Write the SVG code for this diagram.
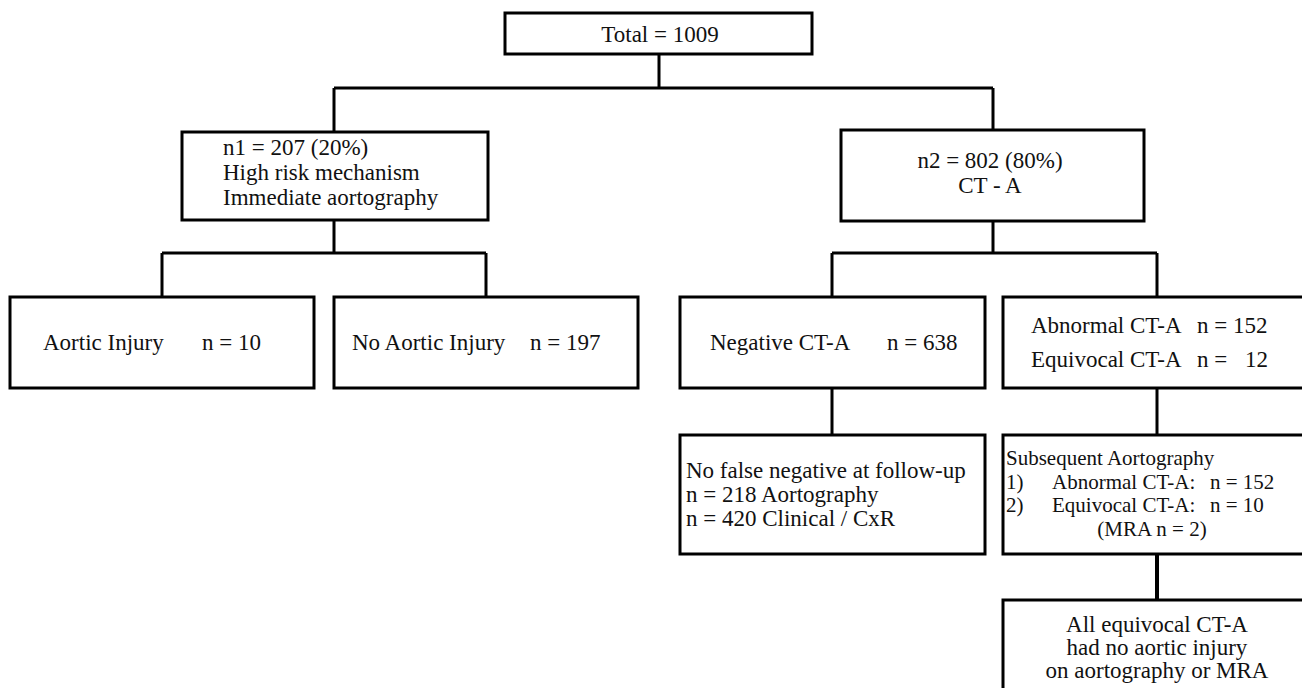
<svg xmlns="http://www.w3.org/2000/svg" width="1302" height="688" viewBox="0 0 1302 688">
<style>
.box{fill:#fff;stroke:#000;stroke-width:3}
.ln{stroke:#000;stroke-width:3;fill:none}
.t{font-family:"Liberation Serif","Times New Roman",serif;font-size:23px;fill:#111}
.s{font-size:21px}
.c{text-anchor:middle}
</style>
<rect width="1302" height="688" fill="#fff"/>
<g id="connectors">
<path class="ln" d="M659,54V88M334,88H993M334,88V132M993,88V130"/>
<path class="ln" d="M334,220V253M162,253H486M162,253V297M486,253V297"/>
<path class="ln" d="M993,221V253M832,253H1157M832,253V297M1157,253V297"/>
<path class="ln" d="M832,388V435M1157,388V435"/>
<path class="ln" d="M1157,554V600" style="stroke-width:4"/>
</g>
<g id="total">
<rect class="box" x="505" y="13" width="307" height="41"/>
<text class="t c" x="660" y="42">Total = 1009</text>
</g>
<g id="n1">
<rect class="box" x="182" y="132" width="306" height="88"/>
<text class="t" x="223" y="155">n1 = 207 (20%)</text>
<text class="t" x="223" y="180">High risk mechanism</text>
<text class="t" x="223" y="205">Immediate aortography</text>
</g>
<g id="n2">
<rect class="box" x="841" y="130" width="303" height="91"/>
<text class="t c" x="990" y="168">n2 = 802 (80%)</text>
<text class="t c" x="990" y="193">CT - A</text>
</g>
<g id="aortic">
<rect class="box" x="10" y="297" width="304" height="91"/>
<text class="t" y="350"><tspan x="43">Aortic Injury</tspan><tspan x="202">n = 10</tspan></text>
</g>
<g id="noaortic">
<rect class="box" x="334" y="297" width="304" height="91"/>
<text class="t" y="350"><tspan x="352">No Aortic Injury</tspan><tspan x="530">n = 197</tspan></text>
</g>
<g id="negative">
<rect class="box" x="680" y="297" width="305" height="91"/>
<text class="t" y="350"><tspan x="710">Negative CT-A</tspan><tspan x="887">n = 638</tspan></text>
</g>
<g id="abnormal">
<rect class="box" x="1003" y="297" width="310" height="91"/>
<text class="t" y="333"><tspan x="1031">Abnormal CT-A</tspan><tspan x="1197">n = 152</tspan></text>
<text class="t" y="367"><tspan x="1031">Equivocal CT-A</tspan><tspan x="1197">n =</tspan><tspan x="1245">12</tspan></text>
</g>
<g id="nofalse">
<rect class="box" x="680" y="435" width="305" height="119"/>
<text class="t" x="686" y="478">No false negative at follow-up</text>
<text class="t" x="686" y="502">n = 218 Aortography</text>
<text class="t" x="686" y="526">n = 420 Clinical / CxR</text>
</g>
<g id="subsequent">
<rect class="box" x="1003" y="435" width="310" height="119"/>
<text class="t s" x="1006" y="465">Subsequent Aortography</text>
<text class="t s" y="488.5"><tspan x="1006">1)</tspan><tspan x="1052">Abnormal CT-A:</tspan><tspan x="1210">n = 152</tspan></text>
<text class="t s" y="512"><tspan x="1006">2)</tspan><tspan x="1052">Equivocal CT-A:</tspan><tspan x="1210">n = 10</tspan></text>
<text class="t s c" x="1152" y="535.5">(MRA n = 2)</text>
</g>
<g id="allequivocal">
<rect class="box" x="1003" y="600" width="310" height="100"/>
<text class="t c" x="1157" y="632">All equivocal CT-A</text>
<text class="t c" x="1157" y="655">had no aortic injury</text>
<text class="t c" x="1157" y="678">on aortography or MRA</text>
</g>
</svg>
